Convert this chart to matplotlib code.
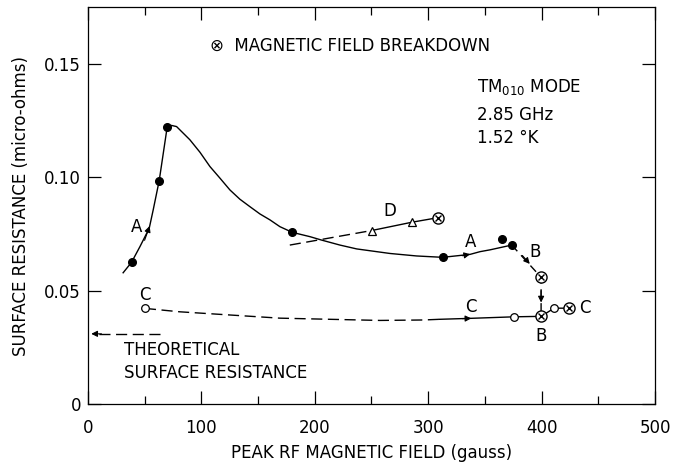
import numpy as np
import matplotlib.pyplot as plt

plt.rcParams['font.family'] = ['DejaVu Sans']
plt.rcParams['mathtext.default'] = 'regular'

# curve A
a_x = [31.1, 38.5, 45.9, 54.1, 57.6, 62.9, 69.9, 73.8, 78.2, 89.9,
       98.8, 107.6, 116.4, 125.2, 134.0, 142.9, 151.7, 160.5, 169.3, 180.2,
       195.8, 206.0, 222.2, 237.0, 266.3, 289.8, 312.8, 336.9, 345.7, 354.5,
       373.6]
a_y = [0.0579, 0.0625, 0.0694, 0.0775, 0.0856, 0.0985, 0.1220,
       0.1228, 0.1223, 0.1165, 0.1110, 0.1047, 0.0996, 0.0944, 0.0903, 0.0870,
       0.0838, 0.0812, 0.0782, 0.0757, 0.0738, 0.0723, 0.0701, 0.0684, 0.0664,
       0.0653, 0.0647, 0.0660, 0.0672, 0.0680, 0.0701]
a_pts_x = [38.5, 62.9, 69.9, 180.2, 312.8, 364.8, 373.6]
a_pts_y = [0.0625, 0.0985, 0.1220, 0.0757, 0.0647, 0.0726, 0.0701]

# curve B (after breakdown)
b_x = [373.6, 399.5, 399.5]
b_y = [0.0701, 0.0559, 0.0387]

# curve C
c_dash_x = [50.3, 81.1, 125.2, 169.3, 213.4, 257.5, 295.7, 310.0]
c_dash_y = [0.0422, 0.0407, 0.0393, 0.0379, 0.0374, 0.0369, 0.0371, 0.0374]
c_solid_x = [310.0, 336.0, 376.0, 399.5, 411.0, 424.0]
c_solid_y = [0.0374, 0.0378, 0.0385, 0.0387, 0.0423, 0.0423]
c_pts_x = [50.3, 376.0, 411.0]
c_pts_y = [0.0422, 0.0385, 0.0423]

# curve D
d_dash_x = [178.0, 250.1]
d_dash_y = [0.0701, 0.0765]
d_solid_x = [250.1, 286.0, 309.0]
d_solid_y = [0.0765, 0.0802, 0.0822]
d_pts_x = [250.1, 286.0]
d_pts_y = [0.0765, 0.0802]

# magnetic field breakdown points
brk_x = [309.0, 399.5, 399.5, 424.0]
brk_y = [0.0822, 0.0559, 0.0387, 0.0423]

theory = 0.031

fig = plt.figure(figsize=(6.81, 4.63), dpi=100)
ax = fig.add_axes([0.129, 0.127, 0.833, 0.858])

lw = 1.0
ax.plot(a_x, a_y, color='k', lw=lw, solid_joinstyle='round')
ax.plot(b_x, b_y, color='k', lw=lw, dashes=(6, 4))
ax.plot(c_dash_x, c_dash_y, color='k', lw=lw, dashes=(8, 4))
ax.plot(c_solid_x, c_solid_y, color='k', lw=lw)
ax.plot(d_dash_x, d_dash_y, color='k', lw=lw, dashes=(8, 4))
ax.plot(d_solid_x, d_solid_y, color='k', lw=lw)

ax.plot(a_pts_x, a_pts_y, 'o', color='k', ms=5.5, zorder=4)
ax.plot(c_pts_x, c_pts_y, 'o', mfc='white', mec='k', mew=0.9, ms=5.5, zorder=4)
ax.plot(d_pts_x, d_pts_y, '^', mfc='white', mec='k', mew=0.9, ms=6, zorder=4)
ax.plot(brk_x, brk_y, 'o', mfc='white', mec='k', mew=1.0, ms=8, zorder=4)
ax.plot(brk_x, brk_y, 'x', color='k', mew=1.0, ms=5, zorder=5)

# theoretical surface resistance
ax.plot([63.5, 6], [theory, theory], color='k', lw=lw, dashes=(8, 4))

def head(x0, y0, x1, y1):
    ax.annotate('', xy=(x1, y1), xytext=(x0, y0),
                arrowprops=dict(arrowstyle='-|>', color='k', lw=0.8,
                                mutation_scale=9, shrinkA=0, shrinkB=0))

head(50.0, 0.0722, 54.5, 0.0785)
head(330.0, 0.0654, 337.0, 0.0661)
head(383.0, 0.0655, 389.5, 0.0618)
head(399.5, 0.0500, 399.5, 0.0448)
head(330.0, 0.0377, 338.0, 0.0378)
head(12.0, theory, 3.0, theory)

fs = 12
ax.text(43, 0.0782, 'A', fontsize=fs, ha='center', va='center')
ax.text(337, 0.0714, 'A', fontsize=fs, ha='center', va='center')
ax.text(394, 0.0672, 'B', fontsize=fs, ha='center', va='center')
ax.text(399.5, 0.0300, 'B', fontsize=fs, ha='center', va='center')
ax.text(50, 0.0483, 'C', fontsize=fs, ha='center', va='center')
ax.text(338, 0.0426, 'C', fontsize=fs, ha='center', va='center')
ax.text(438.5, 0.0422, 'C', fontsize=fs, ha='center', va='center')
ax.text(266, 0.0850, 'D', fontsize=fs, ha='center', va='center')

ax.text(108, 0.158, '\u2297  MAGNETIC FIELD BREAKDOWN', fontsize=fs, ha='left', va='center')
ax.text(342.6, 0.1397, 'TM$_{010}$ MODE', fontsize=fs, ha='left', va='center')
ax.text(342.6, 0.1275, '2.85 GHz', fontsize=fs, ha='left', va='center')
ax.text(342.6, 0.1172, '1.52 \u00b0K', fontsize=fs, ha='left', va='center')
ax.text(31.7, 0.0238, 'THEORETICAL', fontsize=fs, ha='left', va='center')
ax.text(31.7, 0.0137, 'SURFACE RESISTANCE', fontsize=fs, ha='left', va='center')

ax.set_xlim(0, 500)
ax.set_ylim(0, 0.175)
ax.set_xticks([0, 100, 200, 300, 400, 500])
ax.set_xticks([50, 150, 250, 350, 450], minor=True)
ax.set_xticklabels(['0', '100', '200', '300', '400', '500'])
ax.set_yticks([0, 0.05, 0.10, 0.15])
ax.set_yticklabels(['0', '0.05', '0.10', '0.15'])
ax.tick_params(which='both', direction='in', top=True, right=True, width=0.9,
               labelsize=fs)
ax.tick_params(which='major', length=9.5)
ax.tick_params(which='minor', length=6)
ax.tick_params(axis='x', pad=11)
ax.tick_params(axis='y', pad=5)
for s in ax.spines.values():
    s.set_linewidth(0.9)

ax.set_xlabel('PEAK RF MAGNETIC FIELD (gauss)', fontsize=fs, labelpad=5)
ax.set_ylabel('SURFACE RESISTANCE (micro-ohms)', fontsize=fs, labelpad=10)

fig.savefig('out.png', dpi=100)
